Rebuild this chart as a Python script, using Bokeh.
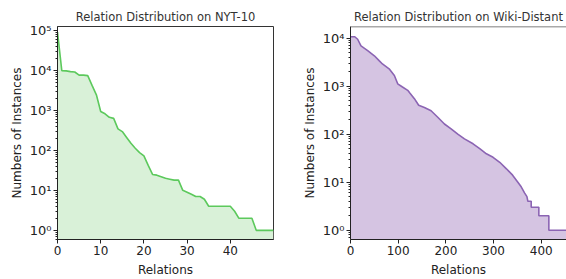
from bokeh.plotting import figure
from bokeh.layouts import row
from bokeh.models import FixedTicker, CustomJSTickFormatter, Range1d, Span
from bokeh.embed import file_html
from bokeh.resources import INLINE

# ---- data ----
nyt_rel = list(range(0, 51))
nyt_cnt = [90000, 9800, 9700, 9300, 9100, 7600, 7600, 7400, 4200, 2450,
           940, 820, 670, 630, 345, 295, 210, 150, 113, 88,
           73, 42, 25, 24, 22, 20, 19, 18, 18, 10,
           9, 8, 7, 7, 6, 4, 4, 4, 4, 4,
           4, 3, 2, 2, 2, 2, 1, 1, 1, 1, 1]

wiki_rel = [0, 9, 15, 22, 36, 50, 60, 67, 81, 92, 99, 109, 120, 124, 134, 143,
            155, 169, 183, 197, 211, 225, 239, 257, 271, 285, 299, 313, 327,
            340, 351, 358, 365, 370, 372, 379, 379, 395, 395, 416, 416, 453]
wiki_cnt = [10700, 10700, 9500, 6900, 5500, 4300, 3400, 2900, 2300, 1670, 1120,
            960, 820, 730, 550, 400, 360, 307, 225, 163, 129, 100, 80, 63, 50,
            39, 33, 26, 19, 14, 10, 8, 6, 5, 4, 4, 3, 3, 2, 2, 1, 1]

nyt_xticks = [0, 10, 20, 30, 40]
wiki_xticks = [0, 100, 200, 300, 400]

FONT = "DejaVu Sans"
sup_js = """
const s = {'0':'\u2070','1':'\u00b9','2':'\u00b2','3':'\u00b3','4':'\u2074',
           '5':'\u2075','6':'\u2076','7':'\u2077','8':'\u2078','9':'\u2079','-':'\u207b'};
const e = Math.round(Math.log10(tick));
return '10' + String(e).split('').map(c => s[c]).join('');
"""


def make_fig(title, width, xr, yr, xticks, bl, br):
    p = figure(width=width, height=279, x_range=Range1d(*xr), y_range=Range1d(*yr),
               y_axis_type="log", output_backend="svg", toolbar_location=None,
               title=title, min_border_left=bl, min_border_right=br,
               min_border_top=26, min_border_bottom=37)
    p.title.align = "center"
    p.title.text_font = FONT
    p.title.text_font_size = "11.5px"
    p.title.text_font_style = "normal"
    p.title.text_color = "#333333"
    p.title.standoff = 6
    p.xgrid.visible = False
    p.ygrid.visible = False
    p.background_fill_color = "white"
    p.border_fill_color = "white"
    for ax in (p.xaxis[0], p.yaxis[0]):
        ax.axis_line_color = "#222222"
        ax.major_tick_line_color = "#222222"
        ax.minor_tick_line_color = "#222222"
        ax.major_tick_out = 4
        ax.major_tick_in = 0
        ax.minor_tick_out = 2
        ax.minor_tick_in = 0
        ax.major_label_text_font = FONT
        ax.major_label_text_font_size = "12px"
        ax.major_label_text_color = "#222222"
        ax.major_label_standoff = 2
        ax.axis_label_text_font = FONT
        ax.axis_label_text_font_size = "12px"
        ax.axis_label_text_font_style = "normal"
        ax.axis_label_text_color = "#222222"
        ax.axis_label_standoff = 3
    p.xaxis.axis_label_standoff = 5
    p.xaxis.ticker = FixedTicker(ticks=xticks)
    p.xaxis.minor_tick_line_color = None
    p.yaxis.formatter = CustomJSTickFormatter(code=sup_js)
    p.yaxis.major_label_text_font_size = "13px"
    p.xaxis.axis_label = "Relations"
    p.yaxis.axis_label = "Numbers of Instances"
    return p


p1 = make_fig("Relation Distribution on NYT-10", 278, (0, 50), (0.59, 1.25e5),
              nyt_xticks, 57, 5)
p1.varea(x=nyt_rel, y1=1e-3, y2=nyt_cnt, fill_color="#d9f1d8")
p1.line(nyt_rel, nyt_cnt, line_color="#5cc95c", line_width=1.6)
p1.outline_line_color = "#333333"
p1.outline_line_width = 1
p1.outline_line_alpha = 1

p2 = make_fig("Relation Distribution on Wiki-Distant", 288, (0, 453), (0.64, 17500),
              wiki_xticks, 72, 0)
p2.varea(x=wiki_rel, y1=1e-3, y2=wiki_cnt, fill_color="#d5c4e2")
p2.line(wiki_rel, wiki_cnt, line_color="#8b64b3", line_width=1.6)
p2.outline_line_color = None
p2.add_layout(Span(location=17500, dimension="width", line_color="#555555", line_width=1.5))

layout = row(p1, p2)
open("out.html", "w").write(file_html(layout, INLINE))
